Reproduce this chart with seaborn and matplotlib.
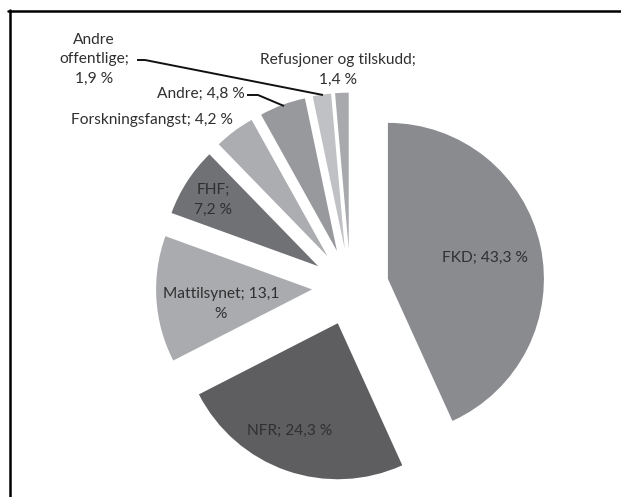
import matplotlib
matplotlib.use("Agg")
import matplotlib.pyplot as plt
from matplotlib.lines import Line2D
import seaborn as sns

# ---- data ----
categories = ["FKD", "NFR", "Mattilsynet", "FHF", "Forskningsfangst", "Andre",
              "Andre offentlige", "Refusjoner og tilskudd"]
shares = [43.3, 24.3, 13.1, 7.2, 4.2, 4.8, 1.9, 1.4]
label_texts = ["FKD; 43,3 %", "NFR; 24,3 %", "Mattilsynet; 13,1\n%", "FHF;\n7,2 %",
               "Forskningsfangst; 4,2 %", "Andre; 4,8 %", "Andre\noffentlige;\n1,9 %",
               "Refusjoner og tilskudd;\n1,4 %"]
colors = ["#8a8b8f", "#5e5e61", "#aaabae", "#707175", "#acadb0", "#98999d",
          "#c0c1c4", "#a8a9ad"]

sns.set_theme(style="white")
plt.rcParams['font.family'] = ['Lato', 'DejaVu Sans']

W, H = 621, 497
fig = plt.figure(figsize=(W / 100, H / 100), dpi=100)
ax = fig.add_axes([0, 0, 1, 1])

R = 156.0            # pixel radius
cx, cy = 350.4, 287  # pixel centre (from top)
ax.pie(shares, colors=colors, startangle=90, counterclock=False,
       explode=[0.246] * len(shares), radius=1.0,
       wedgeprops=dict(linewidth=0))
ax.set_xlim(-cx / R, (W - cx) / R)
ax.set_ylim(-(H - cy) / R, cy / R)
ax.set_aspect("equal")
ax.axis("off")

def px(x, y):
    return ((x - cx) / R, (cy - y) / R)

label_pos = [(485, 258), (290, 431), (221, 304), (213, 200), (152, 120),
             (245, 94), (94, 59), (338, 70)]
label_ha = ["center", "center", "center", "center", "center", "right", "center", "center"]
txtcol = "#303030"
for t, (x, y), ha in zip(label_texts, label_pos, label_ha):
    ax.text(*px(x, y), t, ha=ha, va="center", fontsize=11.2, color=txtcol,
            linespacing=1.5, multialignment="center")

# leader lines
ax.plot(*zip(px(137, 60), px(145, 60), px(323, 95)), color="#111111", lw=1.4,
        solid_capstyle="butt")
ax.plot(*zip(px(247, 95), px(258, 95), px(284, 106)), color="#111111", lw=1.4,
        solid_capstyle="butt")

# frame lines (top and left)
fig.add_artist(Line2D([8 / W, 1], [1 - 11 / H, 1 - 11 / H], color="black", lw=1.8,
                      transform=fig.transFigure))
fig.add_artist(Line2D([9.5 / W, 9.5 / W], [0, 1 - 10 / H], color="black", lw=1.8,
                      transform=fig.transFigure))

fig.savefig("out.png", dpi=100)
